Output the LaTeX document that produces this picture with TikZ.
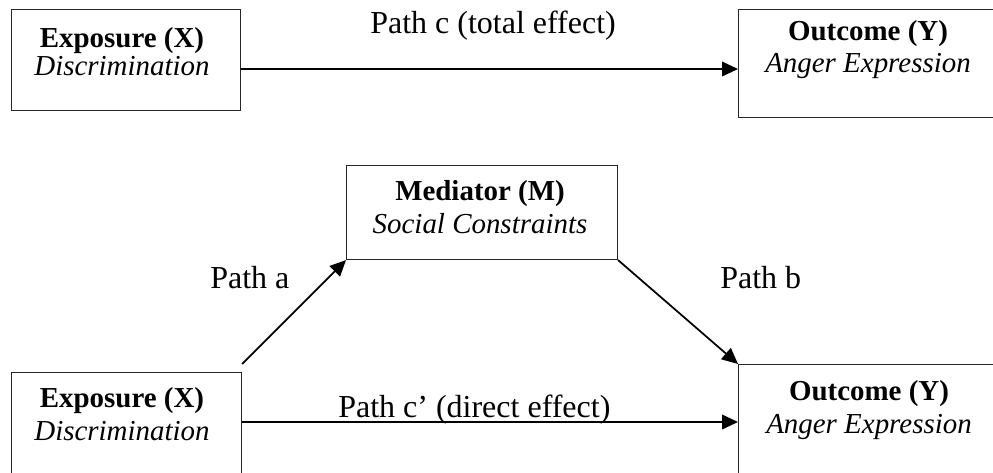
\documentclass[tikz,border=0pt]{standalone}
\usepackage{fontspec}
\setmainfont{Liberation Serif}
\usetikzlibrary{arrows.meta,calc}
\begin{document}
\begin{tikzpicture}[x=0.75pt,y=-0.75pt,
  boxnode/.style={draw=black!85,line width=0.8pt,rectangle,inner sep=0pt,anchor=north west},
  boxtext/.style={anchor=base,inner sep=0pt,font=\fontsize{21.7}{26}\selectfont},
  pathlabel/.style={anchor=base west,inner sep=0pt,font=\fontsize{24}{28}\selectfont},
  conn/.style={line width=1.3pt,-{Triangle[length=12pt,width=11pt]}}]
\clip (0,0) rectangle (993,472);
% boxes
\node[boxnode,minimum width=229*0.75pt,minimum height=101*0.75pt] (x1) at (11,9) {};
\node[boxnode,minimum width=260*0.75pt,minimum height=108*0.75pt] (y1) at (738,9) {};
\node[boxnode,minimum width=271*0.75pt,minimum height=94*0.75pt] (m) at (346,165) {};
\node[boxnode,minimum width=230*0.75pt,minimum height=104*0.75pt] (x2) at (11,372) {};
\node[boxnode,minimum width=260*0.75pt,minimum height=112*0.75pt] (y2) at (738,364) {};
% box texts
\node[boxtext] (x1a) at (122,47) {\textbf{Exposure (X)}};
\node[boxtext] (x1b) at (122,75) {\textit{Discrimination}};
\node[boxtext] (y1a) at (868,40) {\textbf{Outcome (Y)}};
\node[boxtext] (y1b) at (868,72) {\textit{Anger Expression}};
\node[boxtext] (ma) at (480,200) {\textbf{Mediator (M)}};
\node[boxtext] (mb) at (480,233) {\textit{Social Constraints}};
\node[boxtext] (x2a) at (122,407) {\textbf{Exposure (X)}};
\node[boxtext] (x2b) at (122,440) {\textit{Discrimination}};
\node[boxtext] (y2a) at (869,400) {\textbf{Outcome (Y)}};
\node[boxtext] (y2b) at (869,433) {\textit{Anger Expression}};
% path labels
\node[pathlabel] (lc) at (370,33) {Path c (total effect)};
\node[pathlabel] (la) at (210,288) {Path a};
\node[pathlabel] (lb) at (720,288) {Path b};
\node[pathlabel] (lcp) at (338,417) {Path c’ (direct effect)};
% connectors
\coordinate (ytop) at (0,69);
\coordinate (ybot) at (0,422);
\draw[conn] (x1.east |- ytop) -- (y1.west |- ytop);
\draw[conn] ($(x2.north east)+(0,-8)$) -- (m.south west);
\draw[conn] (m.south east) -- (y2.north west);
\draw[conn] (x2.east |- ybot) -- (y2.west |- ybot);
\end{tikzpicture}
\end{document}
